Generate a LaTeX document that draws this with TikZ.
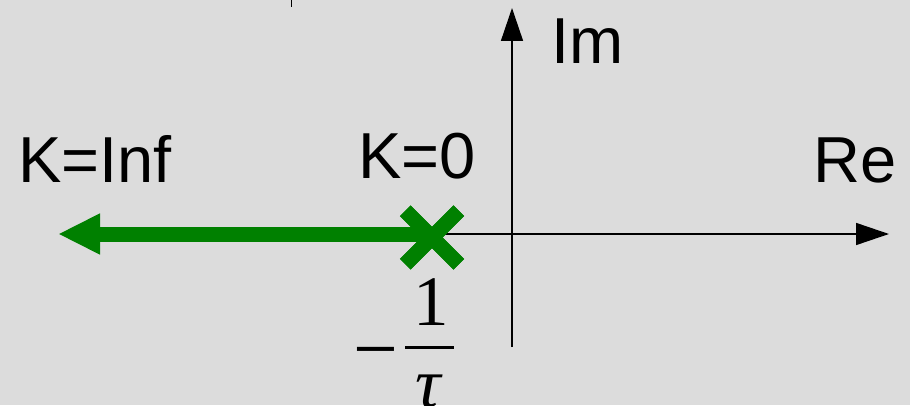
\documentclass[tikz,border=0pt]{standalone}
\usepackage{fontspec}
\setmainfont{Liberation Sans}
\newfontfamily\serifmath{Liberation Serif}
\usetikzlibrary{arrows.meta,shapes.misc}
\definecolor{bggray}{RGB}{220,220,220}
\definecolor{locusgreen}{RGB}{0,128,0}

\begin{document}
\begin{tikzpicture}[x=1pt,y=1pt,font=\fontsize{65}{78}\selectfont,line join=round,
		axis/.style={line width=1.5pt,-{Triangle[length=33pt,width=22pt]}},
		locus/.style={locusgreen,line width=15pt,-{Triangle[length=42pt,width=38pt]}},
		polemark/.style={cross out,draw=locusgreen,line width=15pt,minimum size=38.5pt,inner sep=0pt},
		lbl/.style={anchor=base west,inner sep=0pt},
		fracpart/.style={anchor=base,inner sep=0pt,font=\fontsize{71}{80}\selectfont\serifmath}]
	\fill[bggray] (0,0) rectangle (910,405);
	\useasboundingbox (0,0) rectangle (910,405);
	
	% axes
	\coordinate (imlow) at (512,58);
	\coordinate (imtop) at (512,397);
	\coordinate (releft) at (432,171);
	\coordinate (reright) at (889,171);
	\draw[axis] (imlow) -- (imtop);
	\draw[axis] (releft) -- (reright);
	
	\coordinate (ticktop) at (291.7,405);
	\coordinate (tickbot) at (291.7,398);
	\draw[line width=1pt] (ticktop) -- (tickbot);
	
	% root locus
	\coordinate (infend) at (58,171);
	\node[polemark] (pole) at (432,167.5) {};
	\draw[locus] (pole.center |- infend) -- (infend);
	\node[polemark] at (pole.center) {};
	
	\node[lbl] (im) at (551,341) {Im};
	\node[lbl] (re) at (813,223) {Re};
	\node[lbl] (kinf) at (18,223) {K=Inf};
	\node[lbl] (kzero) at (358,226) {K=0};
	
	% -1/tau
	\node[fracpart] (minus) at (375.5,29) {\scalebox{1.12}[1.15]{−}};
	\node[fracpart] (one) at (431.7,80) {1};
	\coordinate (barl) at (405,57.3);
	\coordinate (barr) at (454,57.3);
	\draw[line width=3.3pt] (barl) -- (barr);
	\node[fracpart] (tau) at (428,-2) {\itshape τ};
\end{tikzpicture}
\end{document}
